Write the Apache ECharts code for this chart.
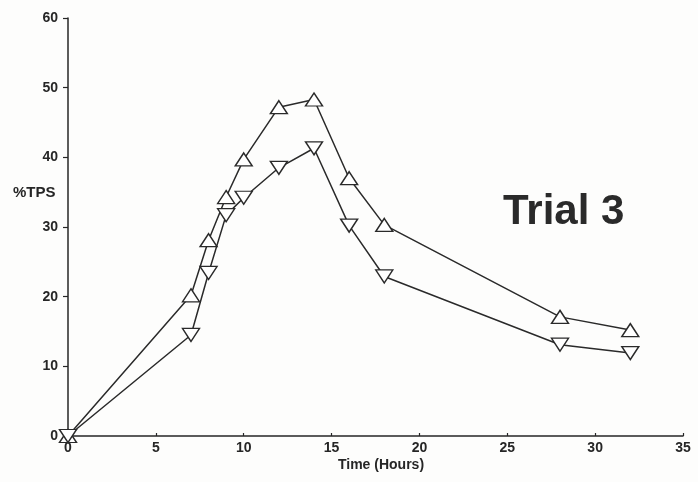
<!DOCTYPE html>
<html>
<head>
<meta charset="utf-8">
<script src="https://cdn.jsdelivr.net/npm/echarts@6/dist/echarts.min.js"></script>
<style>
html,body{margin:0;padding:0;background:#fdfdfc;}
#c{width:698px;height:482px;}
</style>
</head>
<body>
<div id="c"></div>
<script>
// Data (Time in hours, %TPS)
const timeHours = [0, 7, 8, 9, 10, 12, 14, 16, 18, 28, 32];
const upperTPS = [0, 20.2, 28.1, 34.3, 39.7, 47.2, 48.3, 37.0, 30.3, 17.1, 15.2];
const lowerTPS = [0, 14.5, 23.4, 31.7, 34.2, 38.5, 41.3, 30.2, 22.9, 13.1, 11.9];
const xTicks = [0, 5, 10, 15, 20, 25, 30, 35];
const yTicks = [0, 10, 20, 30, 40, 50, 60];
const yLabel = '%TPS';
const xLabel = 'Time (Hours)';
const panelTitle = 'Trial 3';

const pairs = (xs, ys) => xs.map((x, i) => [x, ys[i]]);
const ink = '#262626';
const labelFont = {color: ink, fontSize: 14, fontWeight: 'bold', fontFamily: 'Liberation Sans, Arial, sans-serif'};

const chart = echarts.init(document.getElementById('c'), null, {renderer: 'canvas'});
chart.setOption({
  backgroundColor: '#fdfdfc',
  animation: false,
  grid: {left: 68, right: 15, top: 18, bottom: 46},
  xAxis: {
    type: 'value', min: xTicks[0], max: xTicks[xTicks.length - 1], interval: 5,
    axisLine: {lineStyle: {color: ink, width: 1.5}},
    axisTick: {inside: true, length: 3, lineStyle: {color: ink, width: 1.2}},
    axisLabel: Object.assign({margin: 5}, labelFont),
    splitLine: {show: false}
  },
  yAxis: {
    type: 'value', min: yTicks[0], max: yTicks[yTicks.length - 1], interval: 10,
    axisLine: {show: true, lineStyle: {color: ink, width: 1.5}},
    axisTick: {show: true, inside: false, length: 5, lineStyle: {color: ink, width: 1.2}},
    axisLabel: Object.assign({margin: 10}, labelFont),
    splitLine: {show: false}
  },
  graphic: [
    {type: 'text', left: 13, top: 185, style: {text: yLabel, fill: ink, font: 'bold 15px Liberation Sans, Arial, sans-serif'}},
    {type: 'text', x: 381, y: 465, style: {text: xLabel, fill: ink, align: 'center', verticalAlign: 'middle', font: 'bold 14px Liberation Sans, Arial, sans-serif'}},
    {type: 'text', left: 503, top: 191, style: {text: panelTitle, fill: '#2a2a2a', font: 'bold 42px Liberation Sans, Arial, sans-serif'}}
  ],
  series: [
    {
      type: 'line', data: pairs(timeHours, upperTPS),
      symbol: 'triangle', symbolSize: [17, 13], showAllSymbol: true,
      lineStyle: {color: '#2a2a2a', width: 1.5},
      itemStyle: {color: '#fff', borderColor: '#2a2a2a', borderWidth: 1.4},
      z: 3
    },
    {
      type: 'line', data: pairs(timeHours, lowerTPS),
      symbol: 'triangle', symbolRotate: 180, symbolSize: [17, 13], showAllSymbol: true,
      lineStyle: {color: '#2a2a2a', width: 1.5},
      itemStyle: {color: '#fff', borderColor: '#2a2a2a', borderWidth: 1.4},
      z: 3
    }
  ]
});
</script>
</body>
</html>
